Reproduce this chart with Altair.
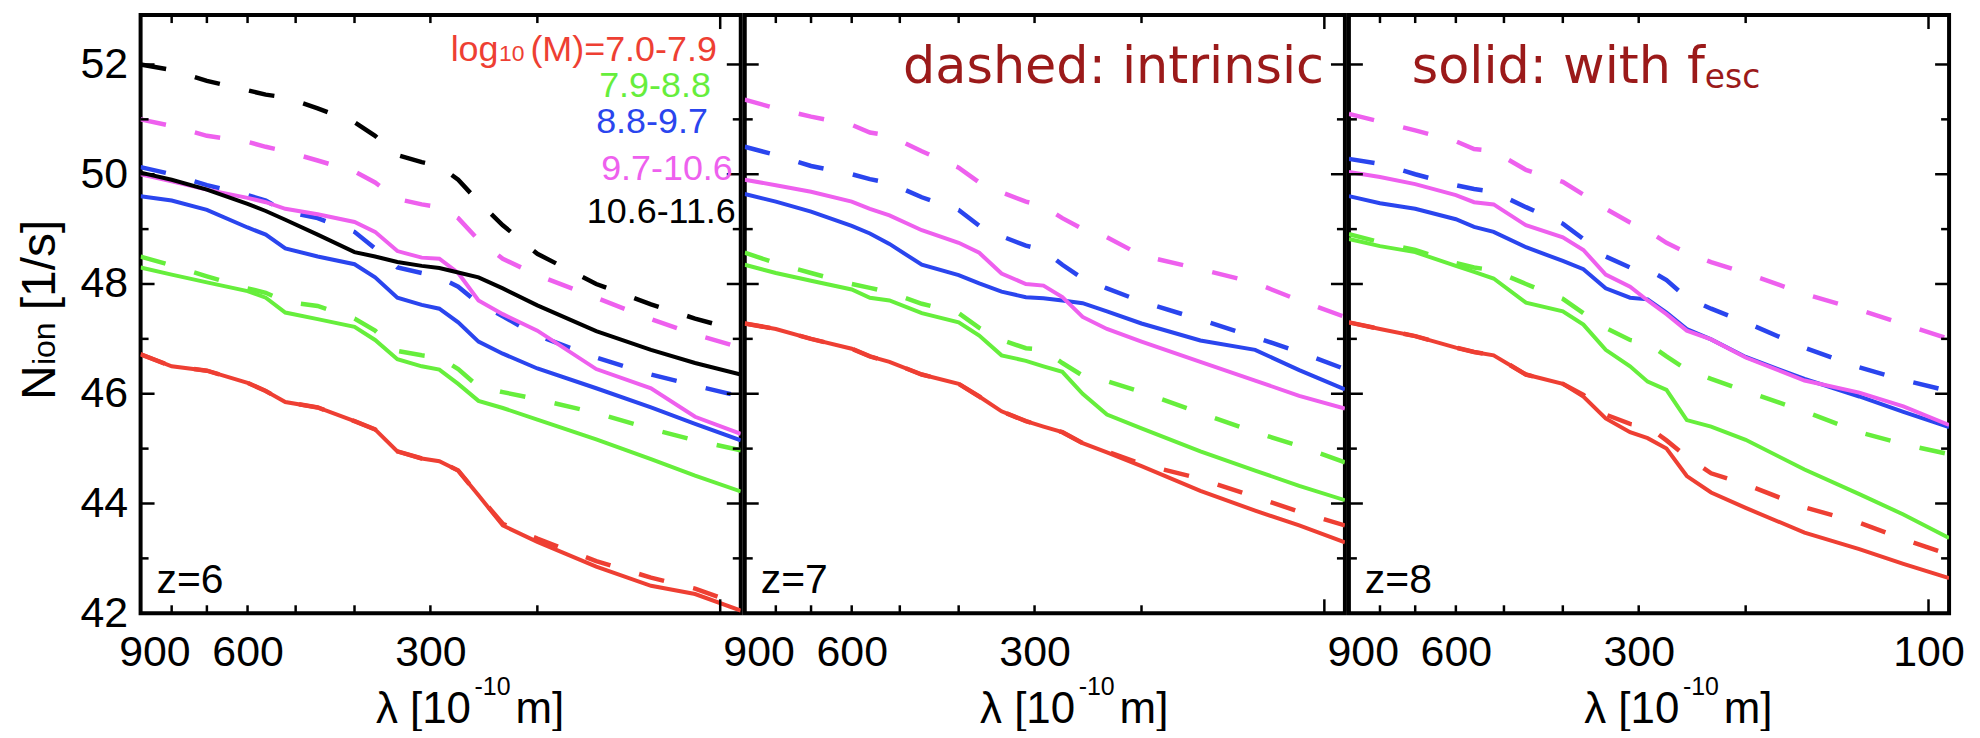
import altair as alt
import pandas as pd

FONT = "Liberation Sans"
NOTE_FONT = "DejaVu Sans"

# ---------------- data ----------------
LAMBDA = [900, 800, 700, 600, 560, 520, 460, 400, 370, 340, 310, 290, 270, 250, 228, 200, 160, 130, 110, 92.5]
MASS_BINS = ["7.0-7.9", "7.9-8.8", "8.8-9.7", "9.7-10.6", "10.6-11.6"]
BIN_COLORS = ["#ee3f33", "#66ee3c", "#2a45ee", "#ee60ee", "#000000"]
REDSHIFTS = [6, 7, 8]
X_LABELS = [900, 600, 300]
X_LABELS_LAST = [900, 600, 300, 100]
X_TICKS_MINOR = [800, 700, 600, 500, 400, 300, 200]
X_TICKS_MAJOR = [100]
Y_LABELS = [42, 44, 46, 48, 50, 52]
Y_TICKS_MAJOR = [44, 46, 48, 50, 52]
Y_TICKS_MINOR = [43, 45, 47, 49, 51]

# z = 6
Z6_RED_INTR = [46.72, 46.5, 46.42, 46.2, 46.05, 45.85, 45.75, 45.5, 45.35, 44.95, 44.82, 44.77, 44.6, 44.15, 43.63, 43.36, 42.95, 42.65, 42.45, 42.15]
Z6_RED_FESC = [46.72, 46.5, 46.42, 46.2, 46.05, 45.85, 45.75, 45.5, 45.35, 44.95, 44.82, 44.77, 44.6, 44.15, 43.6, 43.3, 42.85, 42.5, 42.35, 42.05]
Z6_GREEN_INTR = [48.5, 48.34, 48.14, 47.92, 47.84, 47.68, 47.6, 47.37, 47.15, 46.78, 46.7, 46.66, 46.45, 46.13, 46.03, 45.9, 45.65, 45.36, 45.15, 44.97]
Z6_GREEN_FESC = [48.3, 48.17, 48.03, 47.87, 47.75, 47.48, 47.36, 47.22, 46.98, 46.63, 46.5, 46.44, 46.18, 45.87, 45.74, 45.53, 45.17, 44.81, 44.51, 44.22]
Z6_BLUE_INTR = [50.13, 50.0, 49.8, 49.62, 49.52, 49.32, 49.2, 48.95, 48.65, 48.3, 48.2, 48.12, 47.95, 47.65, 47.41, 47.06, 46.66, 46.35, 46.15, 45.95]
Z6_BLUE_FESC = [49.6, 49.52, 49.35, 49.03, 48.9, 48.65, 48.5, 48.36, 48.12, 47.75, 47.62, 47.55, 47.3, 46.95, 46.73, 46.46, 46.1, 45.75, 45.45, 45.15]
Z6_MAGENTA_INTR = [51.0, 50.88, 50.7, 50.59, 50.5, 50.42, 50.25, 50.05, 49.85, 49.55, 49.45, 49.4, 49.2, 48.8, 48.46, 48.16, 47.75, 47.36, 47.08, 46.84]
Z6_MAGENTA_FESC = [50.0, 49.87, 49.72, 49.57, 49.49, 49.37, 49.27, 49.13, 48.95, 48.6, 48.48, 48.46, 48.2, 47.7, 47.45, 47.15, 46.45, 46.1, 45.58, 45.27]
Z6_BLACK_INTR = [52.0, 51.9, 51.7, 51.53, 51.45, 51.4, 51.2, 50.95, 50.7, 50.35, 50.22, 50.15, 49.9, 49.5, 49.07, 48.55, 48.0, 47.63, 47.37, 47.14]
Z6_BLACK_FESC = [50.03, 49.9, 49.72, 49.46, 49.33, 49.17, 48.9, 48.58, 48.5, 48.4, 48.33, 48.29, 48.21, 48.12, 47.92, 47.61, 47.14, 46.8, 46.56, 46.35]

# z = 7
Z7_RED_INTR = [47.28, 47.18, 47.0, 46.82, 46.68, 46.58, 46.35, 46.18, 45.95, 45.68, 45.5, 45.4, 45.3, 45.1, 44.95, 44.72, 44.45, 44.12, 43.85, 43.6]
Z7_RED_FESC = [47.28, 47.18, 47.0, 46.82, 46.68, 46.58, 46.35, 46.18, 45.95, 45.68, 45.5, 45.4, 45.3, 45.1, 44.93, 44.68, 44.23, 43.87, 43.6, 43.29]
Z7_GREEN_INTR = [48.57, 48.38, 48.2, 48.0, 47.93, 47.85, 47.64, 47.47, 47.2, 46.98, 46.83, 46.8, 46.56, 46.33, 46.23, 46.03, 45.65, 45.3, 45.05, 44.75]
Z7_GREEN_FESC = [48.35, 48.2, 48.06, 47.9, 47.75, 47.7, 47.47, 47.3, 47.06, 46.7, 46.6, 46.5, 46.4, 46.0, 45.62, 45.37, 44.95, 44.6, 44.32, 44.06]
Z7_BLUE_INTR = [50.5, 50.35, 50.15, 50.0, 49.91, 49.84, 49.58, 49.35, 49.06, 48.87, 48.7, 48.62, 48.35, 48.1, 47.92, 47.68, 47.35, 47.03, 46.76, 46.45]
Z7_BLUE_FESC = [49.64, 49.5, 49.32, 49.06, 48.92, 48.73, 48.35, 48.16, 48.01, 47.86, 47.76, 47.74, 47.7, 47.65, 47.5, 47.28, 46.97, 46.8, 46.43, 46.08]
Z7_MAGENTA_INTR = [51.36, 51.2, 51.05, 50.9, 50.76, 50.7, 50.42, 50.12, 49.85, 49.67, 49.5, 49.42, 49.2, 49.0, 48.85, 48.52, 48.27, 48.02, 47.7, 47.4]
Z7_MAGENTA_FESC = [49.9, 49.8, 49.68, 49.5, 49.37, 49.25, 48.98, 48.75, 48.57, 48.19, 48.0, 47.97, 47.76, 47.4, 47.18, 46.95, 46.58, 46.24, 45.96, 45.73]

# z = 8
Z8_RED_INTR = [47.3, 47.18, 47.05, 46.84, 46.76, 46.7, 46.35, 46.18, 45.98, 45.62, 45.45, 45.4, 45.15, 44.85, 44.55, 44.35, 43.93, 43.65, 43.35, 43.07]
Z8_RED_FESC = [47.3, 47.18, 47.05, 46.84, 46.76, 46.7, 46.35, 46.18, 45.95, 45.55, 45.3, 45.19, 45.0, 44.5, 44.2, 43.92, 43.47, 43.17, 42.9, 42.64]
Z8_GREEN_INTR = [48.91, 48.76, 48.62, 48.38, 48.3, 48.25, 48.0, 47.73, 47.47, 47.2, 46.98, 46.92, 46.68, 46.44, 46.27, 46.05, 45.68, 45.3, 45.08, 44.9]
Z8_GREEN_FESC = [48.82, 48.69, 48.58, 48.33, 48.22, 48.1, 47.66, 47.5, 47.26, 46.8, 46.5, 46.22, 46.07, 45.52, 45.4, 45.16, 44.62, 44.17, 43.8, 43.37]
Z8_BLUE_INTR = [50.28, 50.19, 50.0, 49.8, 49.73, 49.68, 49.4, 49.1, 48.82, 48.5, 48.3, 48.27, 48.07, 47.75, 47.55, 47.3, 46.84, 46.48, 46.25, 46.05]
Z8_BLUE_FESC = [49.6, 49.47, 49.37, 49.18, 49.04, 48.95, 48.67, 48.42, 48.27, 47.92, 47.75, 47.72, 47.48, 47.18, 46.99, 46.67, 46.27, 45.95, 45.67, 45.39]
Z8_MAGENTA_INTR = [51.1, 50.96, 50.8, 50.6, 50.46, 50.42, 50.08, 49.86, 49.63, 49.37, 49.12, 48.97, 48.75, 48.57, 48.4, 48.2, 47.82, 47.53, 47.27, 47.0]
Z8_MAGENTA_FESC = [50.04, 49.95, 49.82, 49.62, 49.49, 49.45, 49.07, 48.85, 48.62, 48.17, 47.95, 47.7, 47.45, 47.15, 46.99, 46.66, 46.24, 46.02, 45.77, 45.43]

SERIES = [
    (6, 0, "intrinsic", Z6_RED_INTR), (6, 0, "fesc", Z6_RED_FESC),
    (6, 1, "intrinsic", Z6_GREEN_INTR), (6, 1, "fesc", Z6_GREEN_FESC),
    (6, 2, "intrinsic", Z6_BLUE_INTR), (6, 2, "fesc", Z6_BLUE_FESC),
    (6, 3, "intrinsic", Z6_MAGENTA_INTR), (6, 3, "fesc", Z6_MAGENTA_FESC),
    (6, 4, "intrinsic", Z6_BLACK_INTR), (6, 4, "fesc", Z6_BLACK_FESC),
    (7, 0, "intrinsic", Z7_RED_INTR), (7, 0, "fesc", Z7_RED_FESC),
    (7, 1, "intrinsic", Z7_GREEN_INTR), (7, 1, "fesc", Z7_GREEN_FESC),
    (7, 2, "intrinsic", Z7_BLUE_INTR), (7, 2, "fesc", Z7_BLUE_FESC),
    (7, 3, "intrinsic", Z7_MAGENTA_INTR), (7, 3, "fesc", Z7_MAGENTA_FESC),
    (8, 0, "intrinsic", Z8_RED_INTR), (8, 0, "fesc", Z8_RED_FESC),
    (8, 1, "intrinsic", Z8_GREEN_INTR), (8, 1, "fesc", Z8_GREEN_FESC),
    (8, 2, "intrinsic", Z8_BLUE_INTR), (8, 2, "fesc", Z8_BLUE_FESC),
    (8, 3, "intrinsic", Z8_MAGENTA_INTR), (8, 3, "fesc", Z8_MAGENTA_FESC),
]

rows = []
for z, b, kind, vals in SERIES:
    for lam, v in zip(LAMBDA, vals):
        rows.append({"z": z, "mbin": MASS_BINS[b], "kind": kind, "lam": lam, "nion": v})
df = pd.DataFrame(rows)

# ---------------- chart ----------------
W, H = 602, 600
MINOR, MAJOR = 8, 14
XSCALE = alt.Scale(type="log", domain=[92.5, 900], reverse=True, nice=False)
YSCALE = alt.Scale(domain=[42, 52.9], nice=False, zero=False)
COLOR = alt.Color("mbin:N", scale=alt.Scale(domain=MASS_BINS, range=BIN_COLORS), legend=None)
RED_NOTE = "#9b1a1a"


def txt(s, x, y, size, color="black", font=FONT, align="left", angle=0):
    return alt.Chart(pd.DataFrame({"t": [s]})).mark_text(
        align=align, baseline="alphabetic", fontSize=size, font=font,
        color=color, angle=angle
    ).encode(text="t:N", x=alt.value(x), y=alt.value(y))


def make_panel(idx, z):
    data = df[df.z == z]
    xaxis = alt.Axis(values=X_LABELS_LAST if idx == 2 else X_LABELS, format="d",
                     ticks=False, tickSize=0, domain=False, grid=False,
                     labelFont=FONT, labelFontSize=43, labelColor="black",
                     labelPadding=18, labelFlush=True, labelFlushOffset=22,
                     labelOverlap=False, title=None)
    if idx == 0:
        yaxis = alt.Axis(values=Y_LABELS, ticks=False, tickSize=0, domain=False, grid=False,
                         labelFont=FONT, labelFontSize=43, labelColor="black",
                         labelPadding=13, labelOverlap=False, labelFlush=False, title=None)
    else:
        yaxis = None
    X = alt.X("lam:Q", scale=XSCALE, axis=xaxis)
    Y = alt.Y("nion:Q", scale=YSCALE, axis=yaxis)

    base = alt.Chart(data)
    dashed = base.transform_filter(alt.datum.kind == "intrinsic").mark_line(
        strokeWidth=4.5, strokeDash=[26, 30], clip=True, strokeCap="butt"
    ).encode(x=X, y=Y, color=COLOR, detail="mbin:N")
    solid = base.transform_filter(alt.datum.kind == "fesc").mark_line(
        strokeWidth=4, clip=True
    ).encode(x=X, y=Y, color=COLOR, detail="mbin:N")

    # inward tick marks drawn as small filled tick marks, positioned by the scales
    xminor = alt.Chart(pd.DataFrame({"lam": X_TICKS_MINOR}))
    xmajor = alt.Chart(pd.DataFrame({"lam": X_TICKS_MAJOR}))
    yminor = alt.Chart(pd.DataFrame({"nion": Y_TICKS_MINOR}))
    ymajor = alt.Chart(pd.DataFrame({"nion": Y_TICKS_MAJOR}))
    tk = dict(color="black", thickness=2.5, opacity=1, filled=True)
    ticks = [
        xminor.mark_tick(orient="vertical", size=MINOR, **tk).encode(x=X, y=alt.value(H - MINOR / 2)),
        xminor.mark_tick(orient="vertical", size=MINOR, **tk).encode(x=X, y=alt.value(MINOR / 2)),
        xmajor.mark_tick(orient="vertical", size=MAJOR, **tk).encode(x=X, y=alt.value(H - MAJOR / 2)),
        xmajor.mark_tick(orient="vertical", size=MAJOR, **tk).encode(x=X, y=alt.value(MAJOR / 2)),
        yminor.mark_tick(orient="horizontal", size=MINOR, **tk).encode(y=Y, x=alt.value(MINOR / 2)),
        yminor.mark_tick(orient="horizontal", size=MINOR, **tk).encode(y=Y, x=alt.value(W - MINOR / 2)),
        ymajor.mark_tick(orient="horizontal", size=MAJOR, **tk).encode(y=Y, x=alt.value(MAJOR / 2)),
        ymajor.mark_tick(orient="horizontal", size=MAJOR, **tk).encode(y=Y, x=alt.value(W - MAJOR / 2)),
    ]

    texts = [
        txt(f"z={z}", 16, 580, 41),
        txt("λ [10", 236, 710, 44),
        txt("-10", 335, 682, 25),
        txt("m]", 376, 710, 44),
    ]
    if idx == 0:
        texts += [
            txt("log", 359, 46.5, 36, BIN_COLORS[0], align="right"),
            txt("10", 385, 46.5, 23, BIN_COLORS[0], align="right"),
            txt("(M)=" + MASS_BINS[0], 578, 46.5, 36, BIN_COLORS[0], align="right"),
            txt(MASS_BINS[1], 572, 82, 36, BIN_COLORS[1], align="right"),
            txt(MASS_BINS[2], 569, 118.5, 36, BIN_COLORS[2], align="right"),
            txt(MASS_BINS[3], 594, 165.5, 36, BIN_COLORS[3], align="right"),
            txt(MASS_BINS[4], 597, 208.5, 36, BIN_COLORS[4], align="right"),
            txt("N", -86, 386, 48, angle=270),
            txt("ion", -86, 351, 32, angle=270),
            txt("[1/s]", -86, 296, 48, angle=270),
        ]
    elif idx == 1:
        texts += [txt("dashed: intrinsic", 581, 68.5, 51, RED_NOTE, font=NOTE_FONT, align="right")]
    else:
        texts += [
            txt("solid: with f", 63, 68.5, 51, RED_NOTE, font=NOTE_FONT),
            txt("esc", 357, 73.5, 33, RED_NOTE, font=NOTE_FONT),
        ]

    return alt.layer(dashed, solid, *ticks, *texts).properties(width=W, height=H)


panels = [make_panel(i, z) for i, z in enumerate(REDSHIFTS)]
chart = alt.hconcat(*panels, spacing=4, bounds="flush").properties(
    padding={"left": 7, "top": 4, "right": 5, "bottom": -4}
).configure_view(stroke="black", strokeWidth=4)

chart.save("out.html", embed_options={"renderer": "svg", "actions": False})
